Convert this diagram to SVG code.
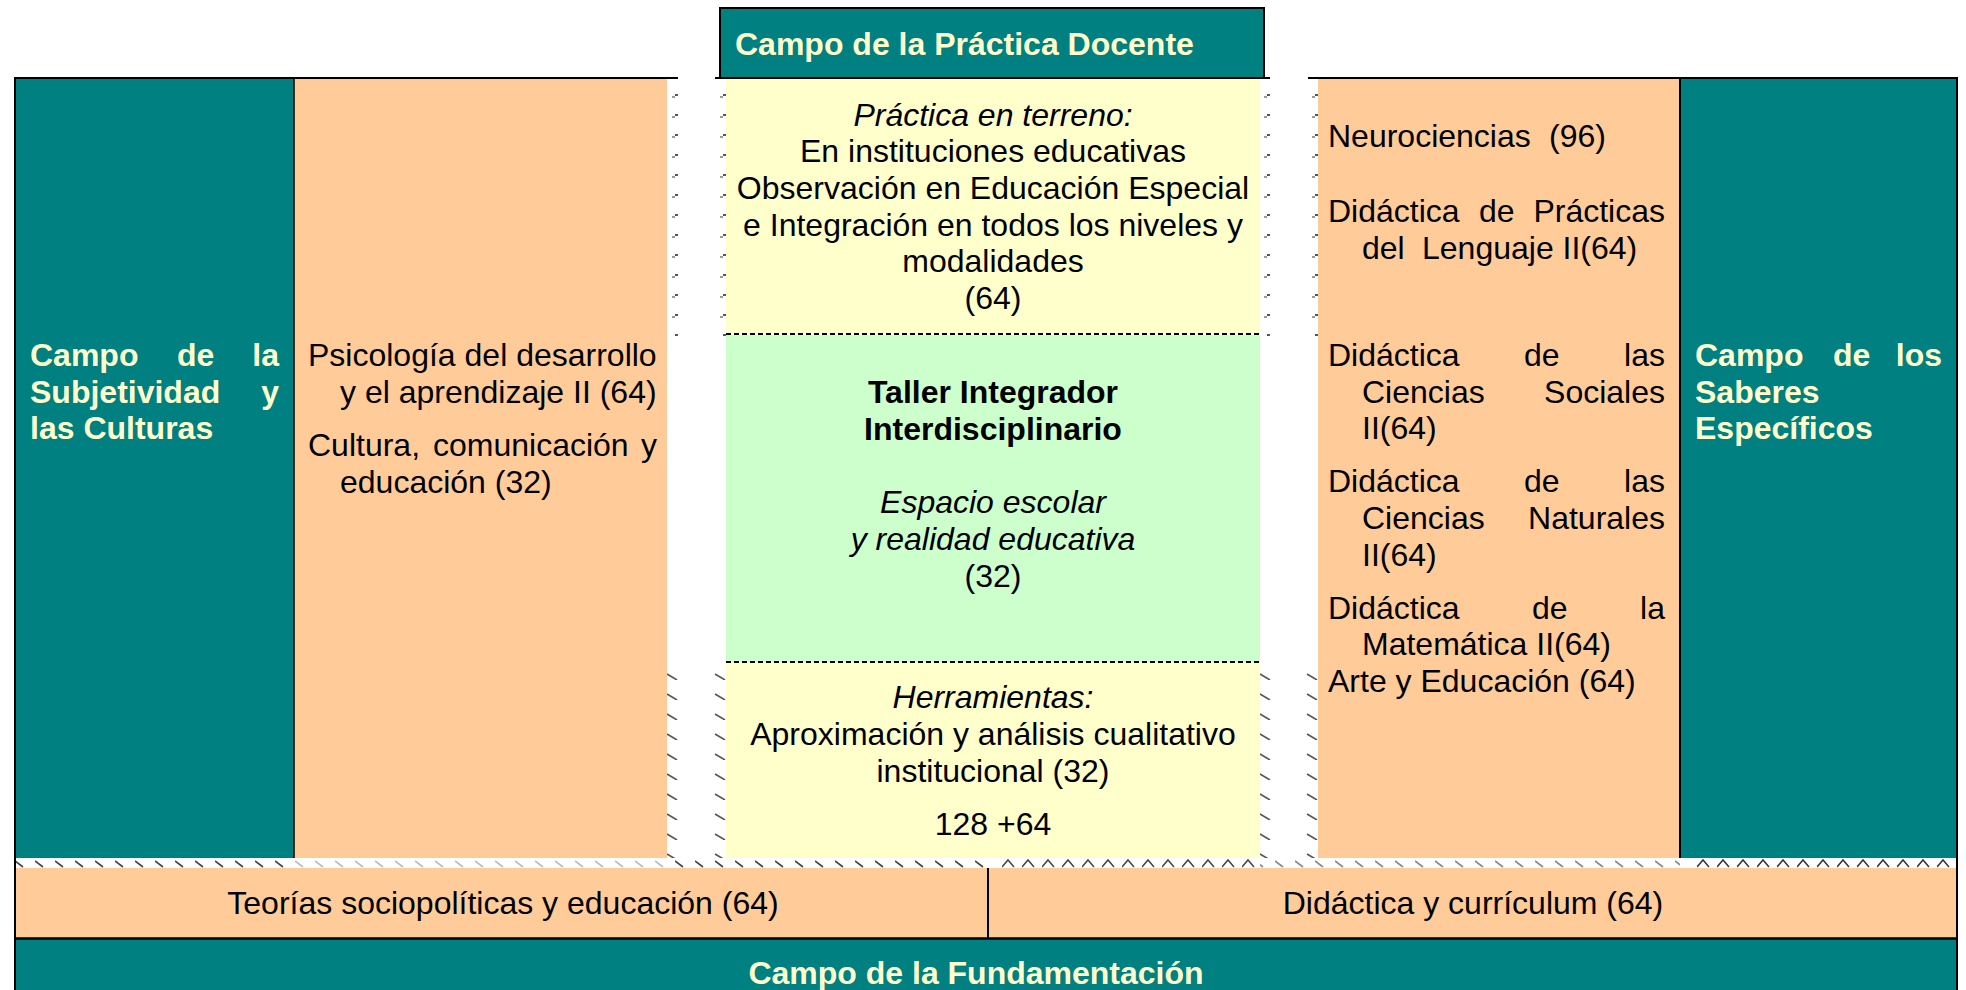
<svg xmlns="http://www.w3.org/2000/svg" width="1966" height="990" viewBox="0 0 1966 990">
<defs>
<style>
.t{font-family:"Liberation Sans",Arial,sans-serif;font-size:32px;fill:#000}
.h{font-weight:bold;fill:#FFFFCC}
.bk{font-weight:bold}
.i{font-style:italic}
.c{text-anchor:middle}
.e{text-anchor:end}
.teal{fill:#008080}
.peach{fill:#FFCC99}
.yel{fill:#FFFFCC}
.grn{fill:#CCFFCC}
.rule{stroke:#000;fill:none}
</style>
<pattern id="gapUp" patternUnits="userSpaceOnUse" width="1966" height="20">
<g fill="#9a9a9a"><rect x="672" y="16" width="3" height="2"/><rect x="720" y="16" width="3" height="2"/><rect x="1264" y="16" width="3" height="2"/><rect x="1312" y="16" width="3" height="2"/></g>
<g fill="#555"><rect x="675" y="14" width="3" height="2"/><rect x="723" y="14" width="3" height="2"/><rect x="1267" y="14" width="3" height="2"/><rect x="1315" y="14" width="3" height="2"/></g>
</pattern>
<pattern id="gapDn" patternUnits="userSpaceOnUse" width="1966" height="20">
<g stroke="#555" stroke-width="1.6" fill="none"><path d="M667 14L677 20"/><path d="M715 14L725 20"/><path d="M1260 14L1270 20"/><path d="M1307 14L1317 20"/></g>
</pattern>
<pattern id="hbD" patternUnits="userSpaceOnUse" width="20" height="10" patternTransform="translate(15 858)"><path d="M0 3L8 9" stroke="#444" stroke-width="1.6"/></pattern>
<pattern id="hbL" patternUnits="userSpaceOnUse" width="20" height="10" patternTransform="translate(15 858)"><path d="M0 3L8 9" stroke="#bbb" stroke-width="1.6"/></pattern>
<pattern id="hbM" patternUnits="userSpaceOnUse" width="20" height="10" patternTransform="translate(15 858)"><path d="M0 3L8 9" stroke="#888" stroke-width="1.6"/></pattern>
<pattern id="hbA1" patternUnits="userSpaceOnUse" width="20" height="10" patternTransform="translate(2 858)"><path d="M0 9L6 2L12 9" stroke="#444" stroke-width="1.5" fill="none"/></pattern>
<pattern id="hbA2" patternUnits="userSpaceOnUse" width="20" height="10" patternTransform="translate(17 858)"><path d="M0 9L6 2L12 9" stroke="#333" stroke-width="1.5" fill="none"/></pattern>
</defs>
<rect x="0" y="0" width="1966" height="990" fill="#fff"/>

<g id="gap-marks">
<rect x="660" y="84" width="670" height="252" fill="url(#gapUp)"/>
<rect x="660" y="664" width="670" height="194" fill="url(#gapDn)"/>
<rect x="15" y="858" width="276" height="10" fill="url(#hbD)"/>
<rect x="295" y="858" width="372" height="10" fill="url(#hbL)"/>
<rect x="667" y="858" width="323" height="10" fill="url(#hbD)"/>
<rect x="996" y="858" width="264" height="10" fill="url(#hbA1)"/>
<rect x="1260" y="858" width="420" height="10" fill="url(#hbM)"/>
<rect x="1690" y="858" width="266" height="10" fill="url(#hbA2)"/>
</g>

<g id="campo-practica-docente">
<rect x="720" y="8" width="544" height="70" class="teal" stroke="#000" stroke-width="2"/>
<text class="t h" x="735" y="55">Campo de la Práctica Docente</text>
</g>

<g id="campo-subjetividad">
<rect x="15" y="78" width="279" height="780" class="teal"/>
<text class="t h" x="30" y="366">Campo</text>
<text class="t h" x="177" y="366">de</text>
<text class="t h e" x="279" y="366">la</text>
<text class="t h" x="30" y="402.5">Subjetividad</text>
<text class="t h e" x="279" y="402.5">y</text>
<text class="t h" x="30" y="439">las Culturas</text>
</g>

<g id="materias-subjetividad">
<rect x="294" y="78" width="373" height="780" class="peach"/>
<text class="t" x="308" y="366">Psicología del desarrollo</text>
<text class="t" x="340" y="402.5">y el aprendizaje II (64)</text>
<text class="t" x="308" y="456">Cultura,</text>
<text class="t" x="433" y="456">comunicación</text>
<text class="t e" x="657" y="456">y</text>
<text class="t" x="340" y="493">educación (32)</text>
</g>

<g id="practica-en-terreno">
<rect x="726" y="79" width="534" height="256" class="yel"/>
<text class="t c i" x="993" y="125.5">Práctica en terreno:</text>
<text class="t c" x="993" y="162">En instituciones educativas</text>
<text class="t c" x="993" y="199">Observación en Educación Especial</text>
<text class="t c" x="993" y="235.5">e Integración en todos los niveles y</text>
<text class="t c" x="993" y="272">modalidades</text>
<text class="t c" x="993" y="309">(64)</text>
</g>

<g id="taller-integrador">
<rect x="726" y="335" width="534" height="327" class="grn"/>
<text class="t c bk" x="993" y="403">Taller Integrador</text>
<text class="t c bk" x="993" y="440">Interdisciplinario</text>
<text class="t c i" x="993" y="513">Espacio escolar</text>
<text class="t c i" x="993" y="550">y realidad educativa</text>
<text class="t c" x="993" y="587">(32)</text>
</g>

<g id="herramientas">
<rect x="726" y="662" width="534" height="196" class="yel"/>
<text class="t c i" x="993" y="708">Herramientas:</text>
<text class="t c" x="993" y="745">Aproximación y análisis cualitativo</text>
<text class="t c" x="993" y="781.5">institucional (32)</text>
<text class="t c" x="993" y="835">128 +64</text>
</g>

<g id="materias-saberes">
<rect x="1318" y="78" width="362" height="780" class="peach"/>
<text class="t" x="1328" y="147">Neurociencias</text>
<text class="t" x="1549" y="147">(96)</text>
<text class="t" x="1328" y="222">Didáctica</text>
<text class="t" x="1479" y="222">de</text>
<text class="t e" x="1665" y="222">Prácticas</text>
<text class="t" x="1362" y="259">del</text>
<text class="t" x="1422" y="259">Lenguaje II(64)</text>
<text class="t" x="1328" y="366">Didáctica</text>
<text class="t" x="1524" y="366">de</text>
<text class="t e" x="1665" y="366">las</text>
<text class="t" x="1362" y="402.5">Ciencias</text>
<text class="t e" x="1665" y="402.5">Sociales</text>
<text class="t" x="1362" y="439">II(64)</text>
<text class="t" x="1328" y="492">Didáctica</text>
<text class="t" x="1524" y="492">de</text>
<text class="t e" x="1665" y="492">las</text>
<text class="t" x="1362" y="529">Ciencias</text>
<text class="t e" x="1665" y="529">Naturales</text>
<text class="t" x="1362" y="566">II(64)</text>
<text class="t" x="1328" y="619">Didáctica</text>
<text class="t" x="1532" y="619">de</text>
<text class="t e" x="1665" y="619">la</text>
<text class="t" x="1362" y="655">Matemática II(64)</text>
<text class="t" x="1328" y="692">Arte y Educación (64)</text>
</g>

<g id="campo-saberes">
<rect x="1680" y="78" width="277" height="780" class="teal"/>
<text class="t h" x="1695" y="366">Campo</text>
<text class="t h" x="1833" y="366">de</text>
<text class="t h e" x="1942" y="366">los</text>
<text class="t h" x="1695" y="402.5">Saberes</text>
<text class="t h" x="1695" y="439">Específicos</text>
</g>

<g id="teorias-sociopoliticas">
<rect x="15" y="868" width="973" height="70" class="peach"/>
<text class="t c" x="503" y="914">Teorías sociopolíticas y educación (64)</text>
</g>

<g id="didactica-curriculum">
<rect x="988" y="868" width="969" height="70" class="peach"/>
<text class="t c" x="1473" y="914">Didáctica y currículum (64)</text>
</g>

<g id="campo-fundamentacion">
<rect x="15" y="938" width="1942" height="52" class="teal"/>
<text class="t h c" x="976" y="984">Campo de la Fundamentación</text>
</g>

<g id="connectors">
<path class="rule" stroke-width="2" d="M14 78H678M715 78H1270M1308 78H1958"/>
<path class="rule" stroke-width="2" d="M15 77V990M1957 77V990"/>
<path class="rule" stroke-width="1.5" d="M294 78V858"/>
<path class="rule" stroke-width="2" d="M1680 78V858"/>
<path class="rule" stroke-width="2" d="M988 868V938"/>
<path class="rule" stroke-width="2.5" d="M15 938.5H1957"/>
<path class="rule" stroke-width="2" stroke-dasharray="5 3" d="M726 334H1260M726 662H1260"/>
</g>
</svg>
